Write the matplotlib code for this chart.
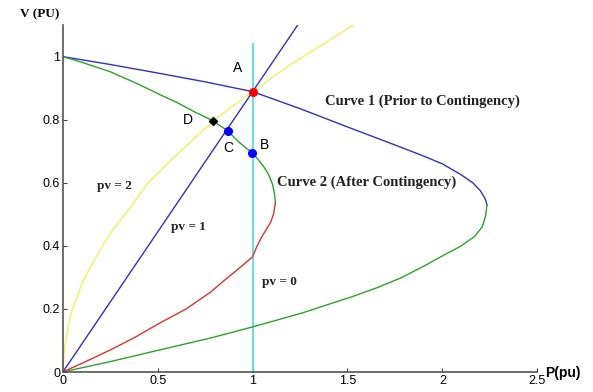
import matplotlib
matplotlib.use("Agg")
import matplotlib.pyplot as plt

# Curve 1 (prior to contingency): upper branch (blue) and lower branch (green)
c1_upper_p = [0.0, 0.25, 0.5, 0.75, 1.0, 1.25, 1.5, 1.75, 1.9, 2.0, 2.1, 2.16, 2.2, 2.225, 2.235]
c1_upper_v = [1.0, 0.975, 0.948, 0.92, 0.889, 0.835, 0.777, 0.72, 0.685, 0.66, 0.625, 0.6, 0.575, 0.55, 0.53]
c1_lower_p = [2.235, 2.228, 2.21, 2.17, 2.1, 2.0, 1.9, 1.78, 1.65, 1.52, 1.26, 1.0, 0.78, 0.51, 0.25, 0.09, 0.0]
c1_lower_v = [0.53, 0.495, 0.46, 0.43, 0.4, 0.368, 0.335, 0.298, 0.266, 0.238, 0.187, 0.143, 0.108, 0.07, 0.033, 0.012, 0.0]

# Curve 2 (after contingency): upper branch (green) and lower branch (red)
c2_upper_p = [0.0, 0.1, 0.25, 0.4, 0.51, 0.6, 0.69, 0.79, 0.868, 0.93, 0.97, 1.0,
              1.03, 1.06, 1.085, 1.105, 1.115, 1.12]
c2_upper_v = [1.0, 0.982, 0.952, 0.912, 0.88, 0.855, 0.826, 0.797, 0.765, 0.728, 0.708, 0.695,
              0.673, 0.65, 0.625, 0.595, 0.565, 0.536]
c2_lower_p = [1.12, 1.11, 1.095, 1.07, 1.045, 1.02, 1.0, 0.96, 0.937, 0.85, 0.78, 0.65,
              0.51, 0.38, 0.25, 0.12, 0.0]
c2_lower_v = [0.536, 0.5, 0.475, 0.45, 0.425, 0.395, 0.365, 0.345, 0.333, 0.29, 0.254, 0.2,
              0.155, 0.11, 0.07, 0.033, 0.0]

# Load characteristics
pv1_p = [0.0, 1.243]
pv1_v = [0.0, 1.105]
pv2_p = [0.0, 0.01, 0.04, 0.1, 0.16, 0.25, 0.34, 0.45, 0.55, 0.7, 0.8, 0.9, 1.0, 1.2, 1.4, 1.53]
pv2_v = [0.0, 0.08, 0.18, 0.28, 0.35, 0.44, 0.51, 0.6, 0.66, 0.745, 0.8, 0.845, 0.889, 0.975, 1.05, 1.10]
pv0_p = [1.0, 1.0]
pv0_v = [0.0, 1.04]

# Operating points
pt_labels = ["A", "B", "C", "D"]
pt_p = [1.0, 0.995, 0.868, 0.79]
pt_v = [0.889, 0.695, 0.765, 0.797]
pt_colors = ["red", "blue", "blue", "black"]

xticks = [0, 0.5, 1, 1.5, 2, 2.5]
xticklabels = ["0", "0.5", "1", "1.5", "2", "2.5"]
yticks = [0, 0.2, 0.4, 0.6, 0.8, 1]
yticklabels = ["0", "0.2", "0.4", "0.6", "0.8", "1"]

fig = plt.figure(figsize=(5.93, 3.92), dpi=100)
ax = fig.add_axes([0.106, 0.051, 0.80, 0.885])

ax.plot(pv0_p, pv0_v, color="#40e0e0", lw=1.2)
ax.plot(pv2_p, pv2_v, color="#f0f060", lw=1.0)
ax.plot(pv1_p, pv1_v, color="#3030c8", lw=1.0)
ax.plot(c1_upper_p, c1_upper_v, color="#3030c8", lw=1.0)
ax.plot(c1_lower_p, c1_lower_v, color="#30a030", lw=1.0)
ax.plot(c2_upper_p, c2_upper_v, color="#30a030", lw=1.0)
ax.plot(c2_lower_p, c2_lower_v, color="#e03030", lw=1.0)

for lab, p, v, c in zip(pt_labels, pt_p, pt_v, pt_colors):
    ax.plot([p], [v], marker="D" if lab == "D" else "o", color=c,
            markersize=4 if lab == "D" else 5.5, zorder=5)

sans = "Liberation Sans"
serif = "Liberation Serif"
ax.text(0.92, 0.965, "A", fontsize=10, family=sans, ha="center", va="center")
ax.text(1.06, 0.72, "B", fontsize=10, family=sans, ha="center", va="center")
ax.text(0.87, 0.71, "C", fontsize=10, family=sans, ha="center", va="center")
ax.text(0.66, 0.80, "D", fontsize=10, family=sans, ha="center", va="center")

ax.text(1.38, 0.857, "Curve 1 (Prior to Contingency)", fontsize=10.5, family=serif,
        fontweight="bold", ha="left", va="center", color="#222222")
ax.text(1.13, 0.603, "Curve 2 (After Contingency)", fontsize=10.5, family=serif,
        fontweight="bold", ha="left", va="center", color="#222222")
ax.text(0.18, 0.59, "pv = 2", fontsize=9.5, family=serif, fontweight="bold",
        ha="left", va="center", color="#222222")
ax.text(0.57, 0.46, "pv = 1", fontsize=9.5, family=serif, fontweight="bold",
        ha="left", va="center", color="#222222")
ax.text(1.05, 0.285, "pv = 0", fontsize=9.5, family=serif, fontweight="bold",
        ha="left", va="center", color="#222222")

ax.set_xlim(0, 2.5)
ax.set_ylim(0, 1.1)
ax.set_xticks(xticks)
ax.set_xticklabels(xticklabels, family=sans, fontsize=9)
ax.set_yticks(yticks)
ax.set_yticklabels(yticklabels, family=sans, fontsize=9)
ax.tick_params(direction="in", length=3, color="#444444", pad=2)
for s in ["top", "right"]:
    ax.spines[s].set_visible(False)
for s in ["left", "bottom"]:
    ax.spines[s].set_color("#555555")
    ax.spines[s].set_linewidth(1.2)
ax.margins(0)

fig.text(545 / 593, 1 - 373 / 392, "P(pu)", family=sans, fontweight="bold",
         fontsize=10, ha="left", va="center")
fig.text(20 / 593, 1 - 14 / 392, "V (PU)", family=serif, fontweight="bold",
         fontsize=9.5, ha="left", va="center")

fig.savefig("out.png", dpi=100)
